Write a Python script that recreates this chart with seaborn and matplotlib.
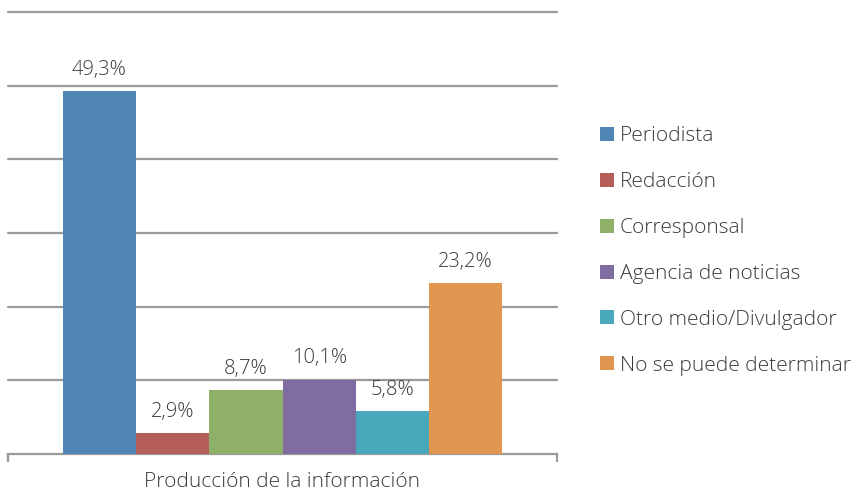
import numpy as np
import pandas as pd
import matplotlib
matplotlib.use('Agg')
import matplotlib.pyplot as plt
import seaborn as sns

# --- datos ---
CATEGORY = 'Producción de la información'
SOURCES = ['Periodista', 'Redacción', 'Corresponsal', 'Agencia de noticias',
           'Otro medio/Divulgador', 'No se puede determinar']
VALUES = [49.3, 2.9, 8.7, 10.1, 5.8, 23.2]
COLORS = ['#4F86B5', '#B55E59', '#8FB069', '#7F6CA1', '#4AA8BD', '#E0964F']

TEXT_COLOR = '#3A3A3A'
GRID_COLOR = '#9A9A9A'

sns.set_theme(style='white')
plt.rcParams['font.family'] = ['Open Sans', 'DejaVu Sans']
plt.rcParams['font.weight'] = 'light'

df = pd.DataFrame({'cat': [CATEGORY] * len(SOURCES), 'fuente': SOURCES, 'valor': VALUES})

fig = plt.figure(figsize=(8.59, 4.93), dpi=100)
W, H = 859, 493
ax = fig.add_axes([8 / W, (H - 454) / H, (557 - 8) / W, (454 - 12) / H])

sns.barplot(data=df, x='cat', y='valor', hue='fuente', hue_order=SOURCES,
            palette=COLORS, width=0.8, saturation=1, linewidth=0,
            ax=ax, legend=True, zorder=3)

ax.set_xlim(-0.5, 0.5)
ax.set_ylim(0, 60)
ax.set_yticks(np.arange(10, 61, 10))
ax.yaxis.grid(True, color=GRID_COLOR, linewidth=1.6, zorder=0)
for gl in ax.get_ygridlines():
    gl.set_clip_on(False)
ax.set_axisbelow(True)
ax.tick_params(axis='y', left=False, labelleft=False)

# etiquetas de valor con coma decimal
for cont, v in zip(ax.containers, VALUES):
    ax.bar_label(cont, labels=[f'{v:.1f}%'.replace('.', ',')], padding=8,
                 fontsize=14.5, color=TEXT_COLOR)

for s in ['top', 'left', 'right']:
    ax.spines[s].set_visible(False)
ax.spines['bottom'].set_color(GRID_COLOR)
ax.spines['bottom'].set_linewidth(1.6)

ax.set_xlabel('')
ax.set_ylabel('')
ax.tick_params(axis='x', which='major', length=0, labelsize=15, labelcolor=TEXT_COLOR, pad=13)
ax.set_xticks([-0.5, 0.5], minor=True)
ax.tick_params(axis='x', which='minor', bottom=True, length=6, width=1.6, color=GRID_COLOR)

handles, labels = ax.get_legend_handles_labels()
ax.legend(handles, labels, loc='center left', bbox_to_anchor=(600 / W, 1 - 251 / H),
          bbox_transform=fig.transFigure, frameon=False, fontsize=15,
          handlelength=0.65, handleheight=0.65, handletextpad=0.3,
          labelspacing=1.24, labelcolor=TEXT_COLOR, borderpad=0, borderaxespad=0)

fig.savefig('out.png', dpi=100)
